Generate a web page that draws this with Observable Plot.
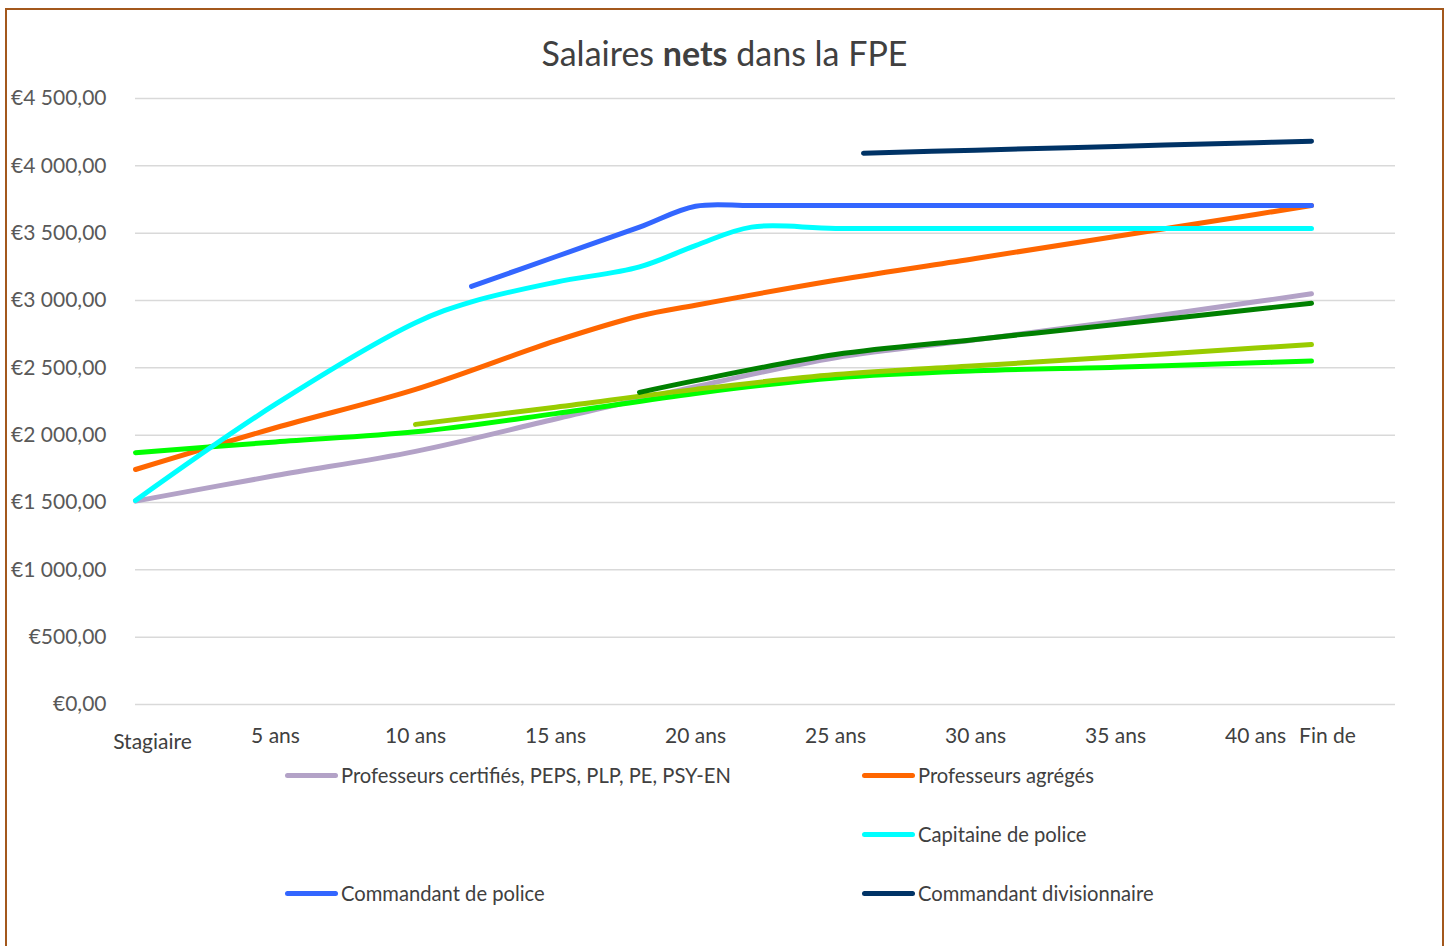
<!DOCTYPE html>
<html>
<head>
<meta charset="utf-8">
<script src="https://cdn.jsdelivr.net/npm/d3@7"></script>
<script src="https://cdn.jsdelivr.net/npm/@observablehq/plot@0.6"></script>
<style>
  html, body { margin: 0; padding: 0; background: #fff; overflow: hidden; }
  body { width: 1451px; height: 946px; position: relative; font-family: Lato, "Noto Sans", sans-serif; }
  #frame { position: absolute; left: 5px; top: 8px; width: 1435px; height: 936px;
           border: 2px solid #A3581C; border-bottom: none; }
  #title { position: absolute; left: 0; right: 0; top: 24px; line-height: 38px; text-align: center;
           font-size: 34px; color: #404040; }
  #chart { position: absolute; left: 0; top: 61px; }
  .leg { position: absolute; height: 30px; display: flex; align-items: center;
         font-size: 20.2px; color: #404040; white-space: nowrap; }
  .sw { display: inline-block; width: 53px; height: 5px; border-radius: 3px; margin-right: 3px; }
</style>
</head>
<body>
<div id="frame">
  <div id="title">Salaires <b>nets</b> dans la FPE</div>
  <div id="chart"></div>
  <div id="legend"></div>
</div>
<script>
// ---- Data ----
const years = [0, 5, 10, 12, 15, 18, 20, 22, 25, 26, 30, 35, 40, 42];

const certifies     = [1510, 1700, 1880, null, 2120, null, 2360, null, 2575, null, 2708, 2844, 2990, 3050];
const agreges       = [1745, 2055, 2340, null, 2700, 2885, 2965, null, 3150, null, 3312, 3475, 3639, 3705];
const vert          = [1870, 1950, 2025, null, 2160, null, 2310, null, 2425, null, 2478, 2505, 2537, 2550];
const capitaine     = [1515, 2230, 2835, 2990, 3136, 3250, 3408, 3545, 3535, null, 3535, 3535, 3535, 3535];
const commandant    = [null, null, null, 3105, 3325, 3545, 3700, 3705, 3705, null, 3705, 3705, 3705, 3705];
const divisionnaire = [null, null, null, null, null, null, null, null, null, 4094, 4116, 4144, 4172, 4183];
const olive         = [null, null, 2080, null, 2208, null, 2340, null, 2450, null, 2515, 2580, 2647, 2673];
const vertFonce     = [null, null, null, null, null, 2318, 2405, null, 2599, null, 2711, 2822, 2935, 2980];

const seriesValues = [certifies, agreges, vert, capitaine, commandant, divisionnaire, olive, vertFonce];
const seriesColors = ["#B3A2C7", "#FF6600", "#00FF00", "#00FFFF", "#3366FF", "#003366", "#99CC00", "#008000"];

const legendNames  = ["Professeurs certifiés, PEPS, PLP, PE, PSY-EN", "Professeurs agrégés", null,
                      "Capitaine de police", "Commandant de police", "Commandant divisionnaire"];
const legendColors = ["#B3A2C7", "#FF6600", null, "#00FFFF", "#3366FF", "#003366"];

const yTicks = [0, 500, 1000, 1500, 2000, 2500, 3000, 3500, 4000, 4500];
const xTickYears  = [0, 5, 10, 15, 20, 25, 30, 35, 40, 42];
const xTickLabels = ["Stagiaire", "5 ans", "10 ans", "15 ans", "20 ans", "25 ans", "30 ans", "35 ans", "40 ans", "Fin de"];

// ---- Build table ----
const rows = [];
seriesValues.forEach((vals, s) => {
  vals.forEach((v, i) => {
    if (v != null) rows.push({serie: s, year: years[i], value: v, color: seriesColors[s]});
  });
});
const xt = xTickYears.map((y, i) => ({year: y, label: xTickLabels[i]}));
const xtMid = xt.slice(1, -1);
const xtFirst = xt.slice(0, 1);
const xtLast = xt.slice(-1);

const fmt = d3.formatLocale({decimal: ",", thousands: "\u00a0", grouping: [3], currency: ["€", ""]}).format("$,.2f");

const chart = Plot.plot({
  width: 1435,
  height: 684,
  marginLeft: 128,
  marginRight: 47,
  marginTop: 27,
  marginBottom: 51,
  style: {fontFamily: "Lato, 'Noto Sans', sans-serif", background: "transparent", overflow: "visible"},
  x: {domain: [0, 45], axis: null},
  y: {domain: [0, 4500], axis: null},
  color: {type: "identity"},
  marks: [
    Plot.gridY(yTicks, {stroke: "#D9D9D9", strokeOpacity: 1, strokeWidth: 1.5}),
    Plot.axisY(yTicks, {tickSize: 0, tickPadding: 29, tickFormat: fmt, fontSize: 21, fill: "#595959", label: null}),
    Plot.text(xtMid, {x: "year", text: "label", frameAnchor: "bottom", dy: 32, lineAnchor: "middle", fontSize: 21, fill: "#404040"}),
    Plot.text(xtFirst, {x: "year", text: "label", frameAnchor: "bottom", dy: 38, dx: 17, lineAnchor: "middle", fontSize: 21, fill: "#404040"}),
    Plot.text(xtLast, {x: "year", text: "label", frameAnchor: "bottom", dy: 32, dx: 16, lineAnchor: "middle", fontSize: 21, fill: "#404040"}),
    Plot.line(rows, {x: "year", y: "value", z: "serie", stroke: "color", strokeWidth: 5,
                     curve: "catmull-rom", strokeLinecap: "round", strokeLinejoin: "round"})
  ]
});
document.getElementById("chart").appendChild(chart);

// ---- Legend ----
const legend = document.getElementById("legend");
const colLeft = [278, 855];
const rowCenter = [765, 824, 883];
legendNames.forEach((name, i) => {
  if (name == null) return;
  const div = document.createElement("div");
  div.className = "leg";
  div.style.left = colLeft[i % 2] + "px";
  div.style.top = (rowCenter[Math.floor(i / 2)] - 15) + "px";
  const sw = document.createElement("span");
  sw.className = "sw";
  sw.style.background = legendColors[i];
  div.appendChild(sw);
  div.appendChild(document.createTextNode(name));
  legend.appendChild(div);
});
</script>
</body>
</html>
